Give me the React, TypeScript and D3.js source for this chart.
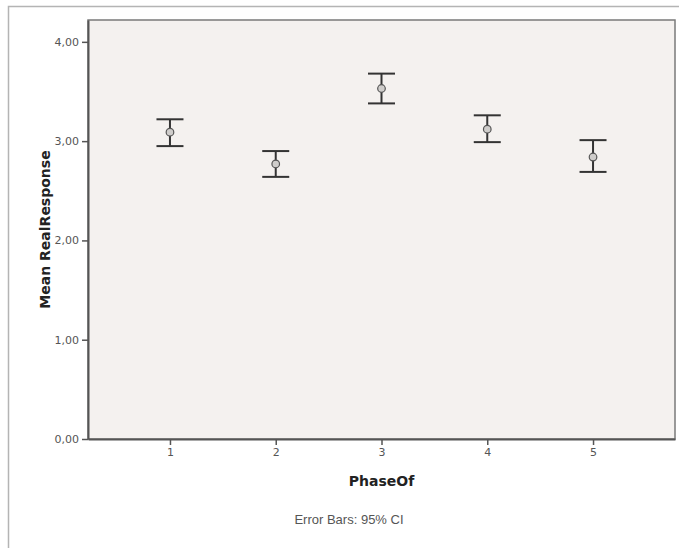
import React, { useEffect, useRef } from 'react';
import * as d3 from 'd3';

const phases = ['1', '2', '3', '4', '5'];
const means = [3.09, 2.77, 3.53, 3.12, 2.84];
const upper = [3.22, 2.9, 3.68, 3.26, 3.01];
const lower = [2.95, 2.64, 3.38, 2.99, 2.69];
const yTicks = [0, 1, 2, 3, 4];

const App = () => {
  const svgRef = useRef<SVGSVGElement>(null);

  useEffect(() => {
    const width = 679;
    const height = 548;
    const plot = { left: 88, right: 675, top: 20, bottom: 439 };

    const svg = d3.select(svgRef.current);
    svg.selectAll('*').remove();
    svg.attr('width', width).attr('height', height);

    // outer frame (only top + left visible)
    svg.append('path')
      .attr('d', `M8.5,${height} V6.5 H${width}`)
      .attr('fill', 'none')
      .attr('stroke', '#b4b4b4')
      .attr('stroke-width', 1.5);

    const x = d3.scalePoint<string>()
      .domain(phases)
      .range([plot.left, plot.right])
      .padding(0.775);

    const y = d3.scaleLinear()
      .domain([0, 4.22])
      .range([plot.bottom, plot.top]);

    // plot area
    svg.append('rect')
      .attr('x', plot.left)
      .attr('y', plot.top)
      .attr('width', plot.right - plot.left)
      .attr('height', plot.bottom - plot.top)
      .attr('fill', '#f4f1ef')
      .attr('stroke', '#7a7a7a')
      .attr('stroke-width', 1.5);

    // axes
    const yAxis = svg.append('g')
      .attr('transform', `translate(${plot.left},0)`)
      .call(d3.axisLeft(y).tickValues(yTicks).tickSize(6).tickSizeOuter(0).tickPadding(3)
        .tickFormat(d => d3.format('.2f')(d as number).replace('.', ',')));
    yAxis.select('.domain').attr('stroke', '#555').attr('stroke-width', 2);
    yAxis.selectAll('.tick line').attr('stroke', '#555').attr('stroke-width', 1.5);
    yAxis.selectAll('.tick text')
      .attr('font-family', 'DejaVu Sans, sans-serif')
      .attr('font-size', 11)
      .attr('fill', '#555');

    const xAxis = svg.append('g')
      .attr('transform', `translate(0,${plot.bottom})`)
      .call(d3.axisBottom(x).tickSize(6).tickSizeOuter(0).tickPadding(3));
    xAxis.select('.domain').attr('stroke', '#555').attr('stroke-width', 2);
    xAxis.selectAll('.tick line').attr('stroke', '#555').attr('stroke-width', 1.5);
    xAxis.selectAll('.tick text')
      .attr('font-family', 'DejaVu Sans, sans-serif')
      .attr('font-size', 11)
      .attr('fill', '#555');

    // error bars
    const data = phases.map((p, i) => ({ p, mean: means[i], hi: upper[i], lo: lower[i] }));
    const capW = 13.5;
    const g = svg.append('g').attr('stroke', '#333').attr('stroke-width', 2);

    g.selectAll('.stem').data(data).enter().append('line')
      .attr('x1', d => x(d.p)!)
      .attr('x2', d => x(d.p)!)
      .attr('y1', d => y(d.hi))
      .attr('y2', d => y(d.lo));

    g.selectAll('.capTop').data(data).enter().append('line')
      .attr('x1', d => x(d.p)! - capW)
      .attr('x2', d => x(d.p)! + capW)
      .attr('y1', d => y(d.hi))
      .attr('y2', d => y(d.hi));

    g.selectAll('.capBot').data(data).enter().append('line')
      .attr('x1', d => x(d.p)! - capW)
      .attr('x2', d => x(d.p)! + capW)
      .attr('y1', d => y(d.lo))
      .attr('y2', d => y(d.lo));

    svg.selectAll('.mean').data(data).enter().append('circle')
      .attr('cx', d => x(d.p)!)
      .attr('cy', d => y(d.mean))
      .attr('r', 3.8)
      .attr('fill', '#cfcdcb')
      .attr('stroke', '#555')
      .attr('stroke-width', 1.2);

    // titles
    svg.append('text')
      .attr('transform', `translate(50,${(plot.top + plot.bottom) / 2}) rotate(-90)`)
      .attr('text-anchor', 'middle')
      .attr('font-family', 'DejaVu Sans, sans-serif')
      .attr('font-weight', 'bold')
      .attr('font-size', 14)
      .attr('fill', '#222')
      .text('Mean RealResponse');

    svg.append('text')
      .attr('x', x('3')!)
      .attr('y', 486)
      .attr('text-anchor', 'middle')
      .attr('font-family', 'DejaVu Sans, sans-serif')
      .attr('font-weight', 'bold')
      .attr('font-size', 14)
      .attr('fill', '#222')
      .text('PhaseOf');

    svg.append('text')
      .attr('x', 349)
      .attr('y', 524)
      .attr('text-anchor', 'middle')
      .attr('font-family', 'Liberation Sans, Arial, sans-serif')
      .attr('font-size', 13)
      .attr('fill', '#555')
      .text('Error Bars: 95% CI');
  }, []);

  return (
    <svg ref={svgRef} style={{ position: 'absolute', left: 0, top: 0, background: '#fff' }}></svg>
  );
};

export default App;
